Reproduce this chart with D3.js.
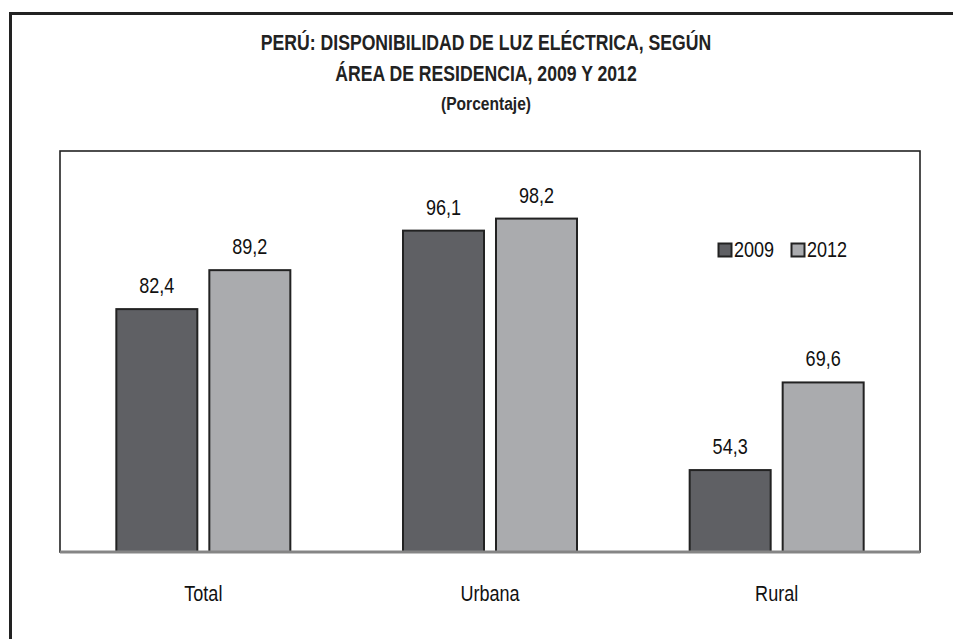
<!DOCTYPE html>
<html>
<head>
<meta charset="utf-8">
<script src="https://cdn.jsdelivr.net/npm/d3@7"></script>
<style>
  html, body { margin: 0; padding: 0; background: #fff; }
  svg text { font-family: "Liberation Sans", Arial, sans-serif; }
</style>
</head>
<body>
<svg id="chart" width="953" height="639"></svg>
<script>
const categories = ["Total", "Urbana", "Rural"];
const seriesNames = ["2009", "2012"];
const values2009 = [82.4, 96.1, 54.3];
const values2012 = [89.2, 98.2, 69.6];
const titleLines = ["PERÚ: DISPONIBILIDAD DE LUZ ELÉCTRICA, SEGÚN", "ÁREA DE RESIDENCIA, 2009 Y 2012", "(Porcentaje)"];

const colors = { "2009": "#5f6064", "2012": "#aaabae" };
const NARROW = 0.82;
const svg = d3.select("#chart");

// narrow text helper: Arial metrics compressed horizontally
function narrowText(parent, x, y, str, opts = {}) {
  const g = parent.append("g").attr("transform", `translate(${x},${y}) scale(${NARROW},1)`);
  const t = g.append("text").attr("x", 0).attr("y", 0)
    .attr("text-anchor", opts.anchor || "middle")
    .attr("font-size", opts.size || 22)
    .attr("font-weight", opts.weight || "normal")
    .attr("fill", opts.fill || "#111").text(str);
  return t;
}

// outer frame
svg.append("path").attr("d", "M10.5,639 L10.5,13.5 L953,13.5")
  .attr("fill", "none").attr("stroke", "#222").attr("stroke-width", 3);

// title
const title = svg.append("g");
const titleY = [50, 81, 110];
const titleSize = [21.5, 21.5, 19];
titleLines.forEach((t, i) => {
  narrowText(title, 486, titleY[i], t, { size: titleSize[i], weight: "bold", fill: "#222" });
});

const plot = { left: 60, right: 920, top: 151, bottom: 552 };

const x = d3.scaleBand().domain(categories).range([plot.left, plot.right]).padding(0);
const groupW = 174;
const x1 = d3.scaleBand().domain(seriesNames)
  .range([(x.bandwidth() - groupW) / 2, (x.bandwidth() + groupW) / 2])
  .paddingInner(12 / 93).paddingOuter(0);
const y = d3.scaleLinear().domain([40, 110]).range([plot.bottom, plot.top]);

// plot box
svg.append("rect").attr("x", plot.left).attr("y", plot.top)
  .attr("width", plot.right - plot.left).attr("height", plot.bottom - plot.top)
  .attr("fill", "none").attr("stroke", "#222").attr("stroke-width", 1.6);

const data = categories.map((c, i) => ({ cat: c, vals: [
  { s: "2009", v: values2009[i] }, { s: "2012", v: values2012[i] }] }));

const groups = svg.append("g").selectAll("g").data(data).join("g")
  .attr("transform", d => `translate(${x(d.cat)},0)`);

groups.selectAll("rect").data(d => d.vals).join("rect")
  .attr("x", d => x1(d.s)).attr("width", x1.bandwidth())
  .attr("y", d => y(d.v)).attr("height", d => y.range()[0] - y(d.v))
  .attr("fill", d => colors[d.s]).attr("stroke", "#222").attr("stroke-width", 2);

groups.each(function (d) {
  const g = d3.select(this);
  d.vals.forEach(v => {
    narrowText(g, x1(v.s) + x1.bandwidth() / 2, y(v.v) - 16,
      d3.format(".1f")(v.v).replace(".", ","), { size: 22 });
  });
});

// baseline
svg.append("line").attr("x1", plot.left).attr("x2", plot.right)
  .attr("y1", plot.bottom).attr("y2", plot.bottom)
  .attr("stroke", "#858585").attr("stroke-width", 3);

// x axis labels (positions from the band scale via axis ticks)
const xAxis = d3.axisBottom(x).tickSize(0).tickPadding(0);
const ax = svg.append("g").attr("transform", `translate(0,${plot.bottom})`).call(xAxis);
ax.select(".domain").remove();
ax.selectAll(".tick text").attr("font-size", 22).attr("fill", "#111")
  .attr("font-family", null).attr("dy", null).attr("y", 0)
  .attr("transform", `translate(0,49) scale(${NARROW},1)`);

// legend
const legend = svg.append("g").attr("transform", "translate(718,243)");
const lx = [0, 73];
seriesNames.forEach((s, i) => {
  const g = legend.append("g").attr("transform", `translate(${lx[i]},0)`);
  g.append("rect").attr("x", 0.5).attr("y", 0.5).attr("width", 13).attr("height", 13)
    .attr("fill", colors[s]).attr("stroke", "#222").attr("stroke-width", 2);
  narrowText(g, 16, 14, s, { size: 22, anchor: "start" });
});
</script>
</body>
</html>
